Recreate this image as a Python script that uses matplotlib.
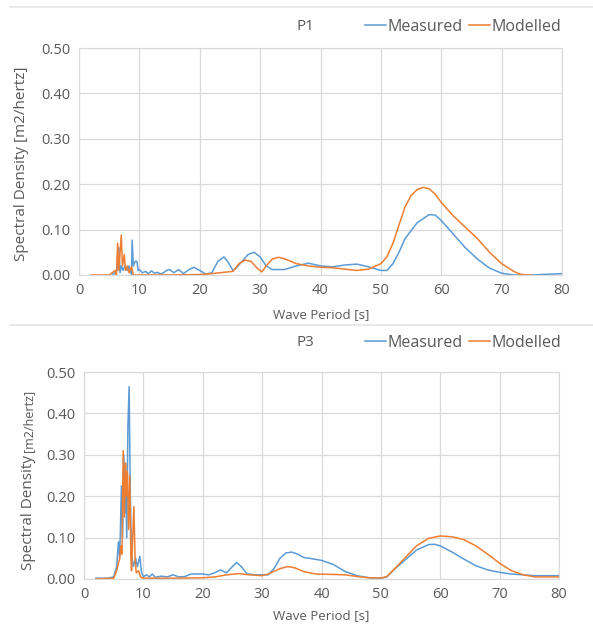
import matplotlib.pyplot as plt
from matplotlib.lines import Line2D

blue = "#5B9BD5"
orange = "#ED7D31"
grid = "#D9D9D9"
txt = "#595959"

# P1 spectra (period [s], density [m2/hertz])
p1_meas_t = [5.5, 6, 6.3, 6.6, 6.8, 7, 7.3, 7.6, 8, 8.3, 8.7, 8.8, 9, 9.3, 9.6, 9.8, 10, 10.5, 11,
             11.5, 12, 12.5, 13, 13.5, 14, 14.5, 15, 15.7, 16.5, 17.3, 18, 19, 20, 21, 22, 23, 24,
             24.6, 25.5, 26, 27, 28, 29, 30, 31, 32, 34, 36, 38, 40, 42, 44, 46, 48, 50, 51, 52,
             53, 54, 56, 58, 59, 60, 62, 64, 66, 68, 70, 72, 75, 78, 80]
p1_meas_v = [0, 0.005, 0.01, 0.06, 0.005, 0.02, 0.01, 0.02, 0.01, 0.02, 0.0, 0.077, 0.02, 0.03,
             0.03, 0.01, 0.012, 0.005, 0.008, 0.003, 0.009, 0.004, 0.006, 0.002, 0.005, 0.01, 0.012,
             0.005, 0.012, 0.003, 0.01, 0.017, 0.01, 0.002, 0.005, 0.03, 0.04, 0.03, 0.01, 0.015,
             0.03, 0.045, 0.05, 0.04, 0.02, 0.012, 0.012, 0.02, 0.026, 0.02, 0.018, 0.022, 0.024,
             0.018, 0.01, 0.01, 0.025, 0.05, 0.08, 0.115, 0.133, 0.132, 0.12, 0.09, 0.06, 0.035,
             0.015, 0.004, 0.0, 0.0, 0.002, 0.003]
p1_mod_t = [2, 5, 5.5, 6, 6.2, 6.4, 6.6, 6.8, 7, 7.2, 7.5, 7.7, 8, 8.3, 8.7, 9, 10, 15, 20, 22, 24,
            25.5, 26.5, 27.5, 28.5, 29.5, 30.3, 31, 32, 33, 34, 36, 38, 40, 42, 44, 46, 48, 50, 51,
            52, 53, 54, 55, 56, 57, 58, 59, 60, 62, 64, 66, 68, 70, 72, 73, 74, 75]
p1_mod_v = [0, 0, 0.005, 0.01, 0.0, 0.07, 0.01, 0.05, 0.088, 0.02, 0.045, 0.01, 0.02, 0.005, 0.018,
            0.0, 0.0, 0.0, 0.001, 0.003, 0.006, 0.008, 0.025, 0.033, 0.03, 0.015, 0.007, 0.02,
            0.035, 0.039, 0.036, 0.025, 0.02, 0.017, 0.016, 0.013, 0.01, 0.013, 0.025, 0.04, 0.07,
            0.11, 0.15, 0.175, 0.188, 0.193, 0.19, 0.178, 0.16, 0.13, 0.105, 0.08, 0.05, 0.025,
            0.008, 0.002, 0.0, 0.0]

# P3 spectra
p3_meas_t = [2, 4, 5, 5.5, 5.8, 6, 6.1, 6.3, 6.5, 6.7, 6.9, 7, 7.2, 7.4, 7.6, 7.8, 8, 8.3, 8.7, 9,
             9.4, 9.7, 10, 10.5, 11, 11.5, 12, 13, 14, 15, 16, 17, 18, 20, 21, 22, 23, 24, 25, 25.7,
             26.5, 27.5, 29, 31, 32, 33, 34, 35, 36, 37, 38, 40, 42, 44, 46, 48, 50, 51, 52, 54, 56,
             58, 59, 60, 62, 64, 66, 68, 70, 72, 74, 76, 80]
p3_meas_v = [0.002, 0.002, 0.005, 0.03, 0.09, 0.05, 0.1, 0.225, 0.1, 0.3, 0.16, 0.25, 0.1, 0.37,
             0.465, 0.2, 0.06, 0.03, 0.05, 0.03, 0.055, 0.015, 0.005, 0.01, 0.005, 0.012, 0.004,
             0.007, 0.005, 0.01, 0.005, 0.006, 0.012, 0.012, 0.01, 0.015, 0.022, 0.015, 0.03, 0.04,
             0.03, 0.012, 0.01, 0.01, 0.025, 0.05, 0.063, 0.065, 0.06, 0.052, 0.05, 0.045, 0.035,
             0.018, 0.008, 0.003, 0.002, 0.005, 0.02, 0.045, 0.07, 0.083, 0.084, 0.08, 0.065, 0.048,
             0.032, 0.022, 0.016, 0.012, 0.01, 0.008, 0.008]
p3_mod_t = [2, 5, 5.5, 6, 6.2, 6.4, 6.6, 6.8, 7, 7.1, 7.3, 7.5, 7.7, 7.9, 8, 8.2, 8.4, 8.6, 8.8, 9.2,
            9.5, 10, 15, 20, 22, 24, 26, 28, 30, 31, 33, 34.3, 35.5, 37, 39, 42, 44, 46, 48, 50, 51,
            52, 54, 56, 58, 60, 62, 64, 66, 68, 70, 72, 74, 76, 80]
p3_mod_v = [0.0, 0.002, 0.02, 0.05, 0.08, 0.06, 0.31, 0.15, 0.28, 0.2, 0.26, 0.12, 0.25, 0.05, 0.02,
            0.1, 0.175, 0.05, 0.015, 0.02, 0.005, 0.002, 0.002, 0.003, 0.005, 0.01, 0.013, 0.01,
            0.008, 0.012, 0.025, 0.03, 0.027, 0.018, 0.012, 0.011, 0.01, 0.006, 0.003, 0.002, 0.006,
            0.02, 0.05, 0.08, 0.098, 0.104, 0.102, 0.095, 0.08, 0.06, 0.038, 0.02, 0.01, 0.005,
            0.005]

plt.rcParams['font.family'] = ['Open Sans', 'DejaVu Sans']

W, H = 593, 627
fig = plt.figure(figsize=(W / 100, H / 100), dpi=100)


def px_axes(x0, y0, x1, y1):
    return fig.add_axes([x0 / W, 1 - y1 / H, (x1 - x0) / W, (y1 - y0) / H])


def panel(ax, title, meas, mod, title_y, legend_x, legend_y, xlabel_y):
    ax.plot(*meas, color=blue, lw=1.1, label="Measured")
    ax.plot(*mod, color=orange, lw=1.1, label="Modelled")
    ax.set_xlim(0, 80)
    ax.set_ylim(0, 0.5)
    ax.set_xticks(range(0, 81, 10))
    ax.set_yticks([0, 0.1, 0.2, 0.3, 0.4, 0.5])
    ax.set_yticklabels([f"{v:.2f}" for v in ax.get_yticks()])
    ax.grid(True, color=grid, lw=0.9)
    ax.set_axisbelow(True)
    for s in ax.spines.values():
        s.set_color(grid)
    ax.tick_params(length=0, colors=txt, labelsize=10.5, pad=6)
    fig.text(305 / W, 1 - title_y / H, title, ha='center', va='center', color=txt, fontsize=11)
    fig.legend(handles=[Line2D([], [], color=blue, lw=1.1), Line2D([], [], color=orange, lw=1.1)],
               labels=["Measured", "Modelled"], loc='center right',
               bbox_to_anchor=(legend_x / W, 1 - legend_y / H), ncol=2, frameon=False,
               handlelength=1.3, handletextpad=0.1, columnspacing=0.4, fontsize=11.5,
               labelcolor=txt, borderaxespad=0, borderpad=0)
    fig.text(321 / W, 1 - xlabel_y / H, "Wave Period [s]", ha='center', va='center',
             color=txt, fontsize=9.5)


ax1 = px_axes(79, 48, 562, 275)
panel(ax1, "P1", (p1_meas_t, p1_meas_v), (p1_mod_t, p1_mod_v), 27, 561, 27, 315)
fig.text(22 / W, 1 - 164 / H, "Spectral Density [m2/hertz]", rotation=90, ha='center',
         va='center', color=txt, fontsize=11)

ax2 = px_axes(84, 372, 559, 579)
panel(ax2, "P3", (p3_meas_t, p3_meas_v), (p3_mod_t, p3_mod_v), 343, 561, 343, 616)
fig.text(28 / W, 1 - 455 / H, "Spectral Density", rotation=90, ha='center',
         va='top', color=txt, fontsize=11)
fig.text(29 / W, 1 - 452 / H, "[m2/hertz]", rotation=90, ha='center',
         va='bottom', color=txt, fontsize=9)

for y in (7, 325):
    fig.add_artist(Line2D([10 / W, 1], [1 - y / H, 1 - y / H], color="#E5E5E5", lw=1.2))

fig.savefig("out.png", dpi=100, facecolor='white')
